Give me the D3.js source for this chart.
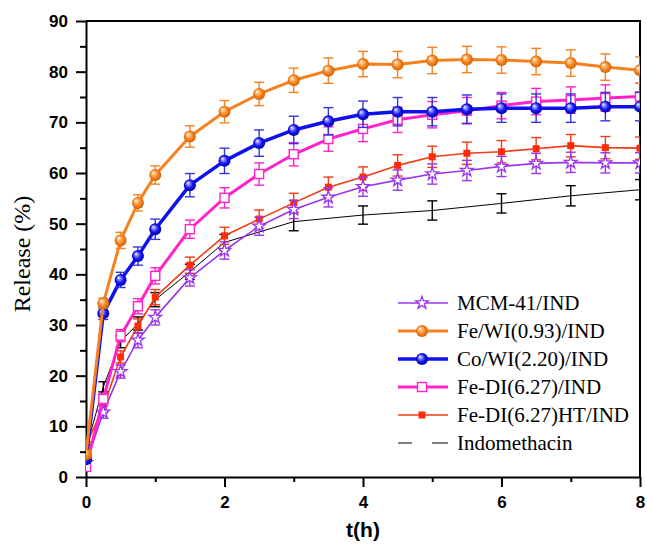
<!DOCTYPE html>
<html>
<head>
<meta charset="utf-8">
<script src="https://cdn.jsdelivr.net/npm/d3@7"></script>
<style>
    body { margin: 0; background: #fff; }
    .axis text { font-family: "Liberation Sans", Arial, sans-serif; font-weight: bold; font-size: 17px; fill: #000; }
    .axis path, .axis line { stroke: #000; stroke-width: 2px; }
    .legend text { font-family: "Liberation Serif", "Times New Roman", serif; font-size: 21px; fill: #000; }
</style>
</head>
<body>
<div id="release-chart"></div>
<script>

// sampling times (h)
var times = [0, 0.25, 0.5, 0.75, 1, 1.5, 2, 2.5, 3, 3.5, 4, 4.5, 5, 5.5, 6, 6.5, 7, 7.5, 8];

var mcmValues = [2.8, 12.8, 20.8, 27.0, 31.5, 39.3, 44.7, 49.5, 52.8, 55.2, 57.3, 58.6, 59.8, 60.5, 61.3, 61.9, 62.1, 62.0, 62.0];
var mcmErrors = [0.8, 1.2, 1.3, 1.5, 1.5, 1.6, 1.7, 1.8, 1.8, 1.9, 1.9, 2.0, 2.0, 2.0, 2.0, 2.0, 2.0, 2.0, 2.0];

var feWiValues = [4.5, 34.3, 46.7, 54.1, 59.6, 67.2, 72.1, 75.6, 78.3, 80.2, 81.5, 81.4, 82.2, 82.4, 82.3, 82.0, 81.7, 80.9, 80.3];
var feWiErrors = [0.8, 1.0, 1.6, 1.6, 1.8, 2.1, 2.2, 2.3, 2.4, 2.5, 2.5, 2.6, 2.6, 2.6, 2.6, 2.6, 2.6, 2.6, 2.6];

var coWiValues = [3.5, 32.3, 38.9, 43.6, 48.9, 57.6, 62.4, 65.9, 68.5, 70.2, 71.6, 72.1, 72.1, 72.6, 72.8, 72.8, 72.8, 73.1, 73.1];
var coWiErrors = [0.8, 1.2, 1.5, 1.8, 2.0, 2.3, 2.5, 2.6, 2.7, 2.7, 2.6, 2.8, 2.8, 2.8, 2.8, 2.8, 2.8, 2.8, 2.8];

var feDiValues = [2.0, 15.4, 27.9, 33.7, 39.7, 48.9, 55.1, 59.8, 63.7, 66.7, 68.7, 70.5, 71.5, 72.3, 73.3, 74.1, 74.4, 74.8, 75.1];
var feDiErrors = [0.6, 1.0, 1.2, 1.5, 1.6, 1.8, 2.0, 2.2, 2.3, 2.4, 2.5, 2.5, 2.6, 2.6, 2.6, 2.6, 2.6, 2.6, 2.6];

var feDiHtValues = [6.3, 13.7, 23.7, 29.8, 35.5, 41.8, 47.6, 50.9, 54.1, 57.2, 59.2, 61.5, 63.2, 63.9, 64.2, 64.8, 65.4, 65.0, 64.9];
var feDiHtErrors = [0.6, 1.0, 1.2, 1.4, 1.5, 1.6, 1.7, 1.8, 1.9, 2.0, 2.0, 2.1, 2.1, 2.2, 2.2, 2.2, 2.2, 2.2, 2.2];

// indomethacin was sampled less often
var indTimes = [0, 0.25, 0.5, 0.75, 1, 1.5, 2, 3, 4, 5, 6, 7, 8];
var indValues = [5.5, 17.8, 26.7, 30.3, 35.0, 40.5, 46.3, 50.4, 51.7, 52.6, 54.0, 55.5, 56.7];
var indErrors = [0.8, 1.0, 1.2, 1.3, 1.4, 1.5, 1.6, 1.8, 1.8, 1.9, 1.9, 2.0, 2.0];

var seriesNames = ["MCM-41/IND", "Fe/WI(0.93)/IND", "Co/WI(2.20)/IND", "Fe-DI(6.27)/IND", "Fe-DI(6.27)HT/IND", "Indomethacin"];

var xTicks = [0, 2, 4, 6, 8];
var yTicks = [0, 10, 20, 30, 40, 50, 60, 70, 80, 90];


ReleaseChart = function(_parentElement){
    this.parentElement = _parentElement;
    this.initVis();
}

ReleaseChart.prototype.initVis = function(){
    var vis = this;

    vis.margin = {top: 21, bottom: 68, left: 86, right: 7};
    vis.width = 647 - vis.margin.left - vis.margin.right;
    vis.height = 545 - vis.margin.top - vis.margin.bottom;

    vis.root = d3.select("#" + vis.parentElement).append("svg")
        .attr("width", 647)
        .attr("height", 545);

    vis.svg = vis.root.append("g")
        .attr("transform", "translate(" + vis.margin.left + "," + vis.margin.top + ")");

    var defs = vis.svg.append("defs");
    defs.append("clipPath")
        .attr("id", "clip")
        .append("rect")
        .attr("width", vis.width)
        .attr("height", vis.height);

    // shaded balls for the two WI series
    function ball(id, light, mid, dark){
        var g = defs.append("radialGradient")
            .attr("id", id)
            .attr("cx", "50%").attr("cy", "50%").attr("r", "55%")
            .attr("fx", "32%").attr("fy", "30%");
        g.append("stop").attr("offset", "0%").attr("stop-color", "#ffffff");
        g.append("stop").attr("offset", "25%").attr("stop-color", light);
        g.append("stop").attr("offset", "60%").attr("stop-color", mid);
        g.append("stop").attr("offset", "100%").attr("stop-color", dark);
    }
    ball("ballOrange", "#ffc07a", "#f5821f", "#c85d00");
    ball("ballBlue", "#8c8cff", "#1414f0", "#0000a0");

    // Scales and axes
    vis.x = d3.scaleLinear()
        .domain([0, 8])
        .range([0, vis.width]);

    vis.y = d3.scaleLinear()
        .domain([0, 90])
        .range([vis.height, 0]);

    vis.xAxis = d3.axisBottom(vis.x)
        .tickValues(xTicks)
        .tickSize(10)
        .tickSizeOuter(0)
        .tickPadding(9);

    vis.yAxis = d3.axisLeft(vis.y)
        .tickValues(yTicks)
        .tickSize(10)
        .tickSizeOuter(0)
        .tickPadding(8);

    vis.xMinor = d3.axisBottom(vis.x)
        .tickValues([1, 3, 5, 7])
        .tickSize(5)
        .tickFormat("");

    vis.yMinor = d3.axisLeft(vis.y)
        .tickValues([5, 15, 25, 35, 45, 55, 65, 75, 85])
        .tickSize(6)
        .tickFormat("");

    vis.svg.append("g")
        .attr("class", "x-axis axis")
        .attr("transform", "translate(0," + vis.height + ")")
        .call(vis.xAxis);

    vis.svg.append("g")
        .attr("class", "axis")
        .attr("transform", "translate(0," + vis.height + ")")
        .call(vis.xMinor)
        .select(".domain").remove();

    vis.svg.append("g")
        .attr("class", "y-axis axis")
        .call(vis.yAxis);

    vis.svg.append("g")
        .attr("class", "axis")
        .call(vis.yMinor)
        .select(".domain").remove();

    // top and right frame
    vis.svg.append("path")
        .attr("d", "M0,0H" + vis.width + "V" + vis.height)
        .attr("fill", "none")
        .attr("stroke", "#000")
        .attr("stroke-width", 2);

    vis.svg.append("text")
        .attr("x", vis.width / 2)
        .attr("y", vis.height + 60)
        .attr("text-anchor", "middle")
        .style("font-family", "'Liberation Sans', Arial, sans-serif")
        .style("font-weight", "bold")
        .style("font-size", "21px")
        .text("t(h)");

    vis.svg.append("text")
        .attr("transform", "translate(-56," + (vis.y(45) + 5) + ") rotate(-90)")
        .attr("text-anchor", "middle")
        .style("font-family", "'Liberation Serif', 'Times New Roman', serif")
        .style("font-size", "24px")
        .text("Release (%)");

    vis.plot = vis.svg.append("g")
        .attr("clip-path", "url(#clip)");

    vis.wrangleData();
}

ReleaseChart.prototype.wrangleData = function(){
    var vis = this;

    function zip(t, v, e){
        return t.map(function(d, i){ return {t: d, v: v[i], e: e[i]}; });
    }

    // drawn back to front
    vis.series = [
        {name: seriesNames[5], data: zip(indTimes, indValues, indErrors), color: "#000", width: 1, marker: "none"},
        {name: seriesNames[4], data: zip(times, feDiHtValues, feDiHtErrors), color: "#f03c14", width: 1.6, marker: "square", fill: "#ff2a0a", size: 7},
        {name: seriesNames[0], data: zip(times, mcmValues, mcmErrors), color: "#9a35f0", width: 1.6, marker: "star"},
        {name: seriesNames[3], data: zip(times, feDiValues, feDiErrors), color: "#ff22c8", width: 3, marker: "open", size: 9},
        {name: seriesNames[2], data: zip(times, coWiValues, coWiErrors), color: "#1010ee", width: 3.5, marker: "ball", fill: "url(#ballBlue)", errColor: "#3535e0"},
        {name: seriesNames[1], data: zip(times, feWiValues, feWiErrors), color: "#f5821f", width: 3, marker: "ball", fill: "url(#ballOrange)"}
    ];

    vis.updateVis();
}

ReleaseChart.prototype.drawMarker = function(sel, s){
    if (s.marker == "ball") {
        sel.append("circle")
            .attr("r", 6)
            .attr("fill", s.fill);
    } else if (s.marker == "square") {
        sel.append("rect")
            .attr("x", -s.size / 2).attr("y", -s.size / 2)
            .attr("width", s.size).attr("height", s.size)
            .attr("fill", s.fill);
    } else if (s.marker == "open") {
        sel.append("rect")
            .attr("x", -s.size / 2).attr("y", -s.size / 2)
            .attr("width", s.size).attr("height", s.size)
            .attr("fill", "#fff")
            .attr("stroke", s.color)
            .attr("stroke-width", 1.4);
    } else if (s.marker == "star") {
        sel.append("path")
            .attr("d", d3.symbol().type(d3.symbolStar).size(50)())
            .attr("fill", "#fff")
            .attr("stroke", s.color)
            .attr("stroke-width", 1.3);
    }
}

ReleaseChart.prototype.updateVis = function(){
    var vis = this;

    var line = d3.line()
        .x(function(d) { return vis.x(d.t); })
        .y(function(d) { return vis.y(d.v); });

    vis.series.forEach(function(s){
        var g = vis.plot.append("g").attr("class", "series");
        var errColor = s.errColor || s.color;

        g.append("path")
            .datum(s.data)
            .attr("d", line)
            .attr("fill", "none")
            .attr("stroke", s.color)
            .attr("stroke-width", s.width)
            .attr("stroke-linejoin", "round");

        var bars = g.selectAll("g.err")
            .data(s.data)
            .enter().append("g")
            .attr("class", "err")
            .attr("stroke", errColor)
            .attr("stroke-width", 1.4);

        bars.append("line")
            .attr("x1", function(d) { return vis.x(d.t); })
            .attr("x2", function(d) { return vis.x(d.t); })
            .attr("y1", function(d) { return vis.y(d.v - d.e); })
            .attr("y2", function(d) { return vis.y(d.v + d.e); });

        [-1, 1].forEach(function(sign){
            bars.append("line")
                .attr("x1", function(d) { return vis.x(d.t) - 5; })
                .attr("x2", function(d) { return vis.x(d.t) + 5; })
                .attr("y1", function(d) { return vis.y(d.v + sign * d.e); })
                .attr("y2", function(d) { return vis.y(d.v + sign * d.e); });
        });

        if (s.marker != "none") {
            var marks = g.selectAll("g.mark")
                .data(s.data)
                .enter().append("g")
                .attr("class", "mark")
                .attr("transform", function(d) { return "translate(" + vis.x(d.t) + "," + vis.y(d.v) + ")"; });
            vis.drawMarker(marks, s);
        }
    });

    // Legend
    var order = [0, 1, 2, 3, 4, 5].map(function(i){
        return vis.series.filter(function(s){ return s.name == seriesNames[i]; })[0];
    });

    var legend = vis.root.append("g")
        .attr("class", "legend")
        .attr("transform", "translate(398,303)");

    order.forEach(function(s, i){
        var row = legend.append("g").attr("transform", "translate(0," + (i * 28) + ")");
        if (s.marker == "none") {
            row.append("path")
                .attr("d", "M0,0H14M34,0H50")
                .attr("stroke", s.color)
                .attr("stroke-width", s.width);
        } else {
            row.append("line")
                .attr("x1", 0).attr("x2", 50)
                .attr("stroke", s.color)
                .attr("stroke-width", s.width);
            var m = row.append("g").attr("transform", "translate(24,0)");
            vis.drawMarker(m, s);
        }
        row.append("text")
            .attr("x", 59)
            .attr("y", 7)
            .text(s.name);
    });
}

new ReleaseChart("release-chart");

</script>
</body>
</html>
